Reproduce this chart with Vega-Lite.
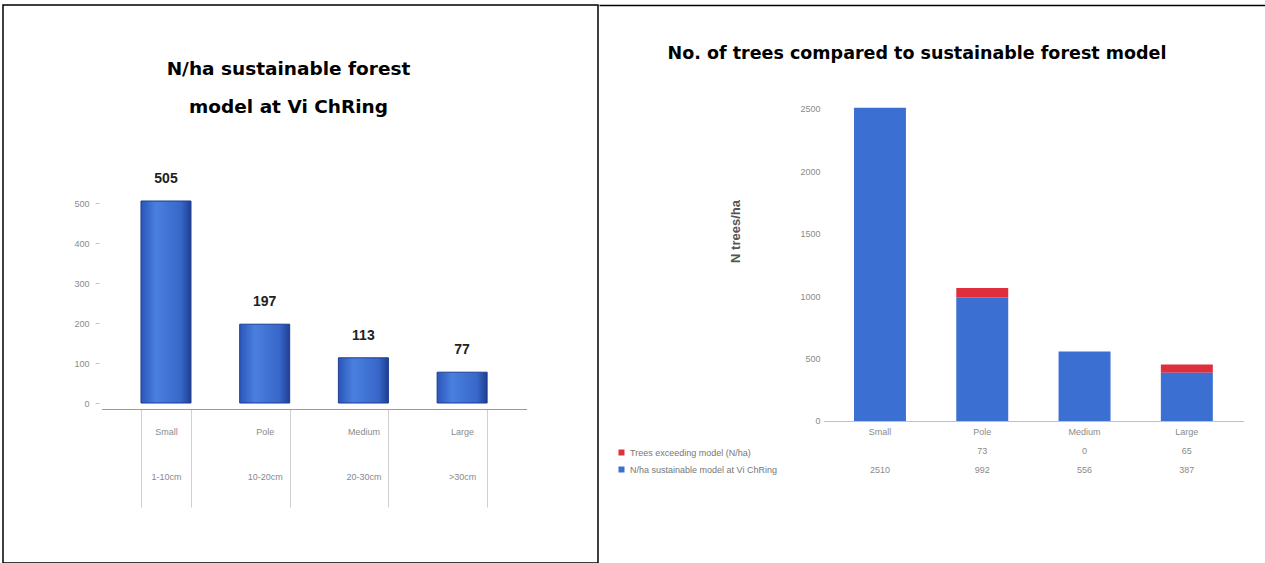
{
  "$schema": "https://vega.github.io/schema/vega-lite/v6.json",
  "padding": {"left": 2, "top": 4, "right": 0, "bottom": 0},
  "background": "white",
  "spacing": 0,
  "config": {"font": "Liberation Sans", "view": {"stroke": null}},
  "resolve": {"scale": {"x": "independent", "y": "independent", "color": "independent"}},
  "hconcat": [
    {
      "width": 595,
      "height": 558,
      "view": {"stroke": "black", "strokeWidth": 1.5},
      "title": {
        "text": ["N/ha sustainable forest", "model at Vi ChRing"],
        "frame": "group", "anchor": "middle", "orient": "top",
        "offset": -111, "baseline": "top", "dx": -12,
        "font": "DejaVu Sans", "fontSize": 18.5, "fontWeight": "bold", "lineHeight": 38, "color": "black"
      },
      "data": {"values": [
        {"cls": "Small|1-10cm", "n": 505},
        {"cls": "Pole|10-20cm", "n": 197},
        {"cls": "Medium|20-30cm", "n": 113},
        {"cls": "Large|>30cm", "n": 77}
      ]},
      "encoding": {
        "x": {
          "field": "cls", "type": "nominal", "sort": null,
          "scale": {"range": [98.5, 523.6], "paddingInner": 0.4934, "paddingOuter": 0.4},
          "axis": {
            "orient": "bottom", "offset": -154, "title": null, "labelAngle": 0,
            "labelExpr": "split(datum.label, '|')",
            "labelFontSize": 9, "labelColor": "#8a8a8a", "labelLineHeight": 45,
            "labelPadding": -80, "domainColor": "#9a9a9a",
            "ticks": true, "tickBand": "extent", "tickSize": 98, "tickColor": "#d0d0d0"
          }
        },
        "y": {
          "field": "n", "type": "quantitative",
          "scale": {"domain": [-400, 995], "nice": false, "zero": false},
          "axis": {
            "orient": "left", "offset": -96, "title": null,
            "values": [0, 100, 200, 300, 400, 500],
            "domain": false, "ticks": true, "tickSize": 4, "tickColor": "#c0c0c0",
            "labelFontSize": 9, "labelColor": "#8a8a8a", "labelPadding": 6, "grid": false
          }
        }
      },
      "layer": [
        {
          "mark": {
            "type": "bar", "stroke": "#1d3d8e", "strokeWidth": 1,
            "color": {
              "gradient": "linear", "x1": 0, "x2": 1, "y1": 0, "y2": 0,
              "stops": [
                {"offset": 0, "color": "#2b56b9"},
                {"offset": 0.3, "color": "#4a7fe0"},
                {"offset": 0.8, "color": "#3767c9"},
                {"offset": 1, "color": "#1f3f90"}
              ]
            }
          }
        },
        {
          "mark": {"type": "text", "dy": -22, "fontSize": 14, "fontWeight": "bold", "color": "#222", "font": "Liberation Sans"},
          "encoding": {"text": {"field": "n", "type": "quantitative"}}
        }
      ]
    },
    {
      "width": 668,
      "height": 558,
      "title": {
        "text": "No. of trees compared to sustainable forest model",
        "frame": "group", "anchor": "middle", "orient": "top",
        "offset": -57, "baseline": "top", "dx": -16,
        "font": "DejaVu Sans", "fontSize": 17.5, "fontWeight": "bold", "color": "black"
      },
      "data": {"values": [
        {"cls": "Small|\u200b|2510", "series": "Trees exceeding model (N/ha)", "ord": 2, "v": 0},
        {"cls": "Small|\u200b|2510", "series": "N/ha sustainable model at Vi ChRing", "ord": 1, "v": 2510},
        {"cls": "Pole|73|992", "series": "Trees exceeding model (N/ha)", "ord": 2, "v": 73},
        {"cls": "Pole|73|992", "series": "N/ha sustainable model at Vi ChRing", "ord": 1, "v": 992},
        {"cls": "Medium|0|556", "series": "Trees exceeding model (N/ha)", "ord": 2, "v": 0},
        {"cls": "Medium|0|556", "series": "N/ha sustainable model at Vi ChRing", "ord": 1, "v": 556},
        {"cls": "Large|65|387", "series": "Trees exceeding model (N/ha)", "ord": 2, "v": 65},
        {"cls": "Large|65|387", "series": "N/ha sustainable model at Vi ChRing", "ord": 1, "v": 387}
      ]},
      "layer": [
        {
          "mark": {"type": "bar"},
          "encoding": {
            "x": {
              "field": "cls", "type": "nominal", "sort": null,
              "scale": {"range": [224.3, 644.5], "paddingInner": 0.492, "paddingOuter": 0.3},
              "axis": {
                "orient": "bottom", "offset": -142, "title": null, "labelAngle": 0,
                "labelExpr": "split(datum.label, '|')",
                "labelFontSize": 9, "labelColor": "#8a8a8a", "labelLineHeight": 19,
                "labelPadding": 6, "domainColor": "#c0c0c0", "ticks": false
              }
            },
            "y": {
              "field": "v", "type": "quantitative", "stack": "zero",
              "scale": {"domain": [-1138, 3333], "nice": false, "zero": false},
              "axis": {
                "orient": "left", "offset": -238, "title": "N trees/ha",
                "titleX": -95, "titleY": 226, "titleFontSize": 13, "titleFontWeight": "bold", "titleColor": "#555",
                "values": [0, 500, 1000, 1500, 2000, 2500], "format": "d",
                "domain": false, "ticks": false, "labelPadding": 17,
                "labelFontSize": 9, "labelColor": "#8a8a8a", "grid": false
              }
            },
            "color": {
              "field": "series", "type": "nominal",
              "scale": {
                "domain": ["Trees exceeding model (N/ha)", "N/ha sustainable model at Vi ChRing"],
                "range": ["#df2f3d", "#3b6fd1"]
              },
              "legend": {
                "orient": "none", "legendX": 18, "legendY": 443, "title": null,
                "symbolType": "square", "symbolSize": 36, "labelFontSize": 9,
                "labelColor": "#777", "rowPadding": 7, "direction": "vertical"
              }
            },
            "order": {"field": "ord", "type": "quantitative"}
          }
        },
        {
          "mark": {"type": "rule", "opacity": 0},
          "encoding": {
            "x": {
              "field": "cls", "type": "nominal", "sort": null,
              "axis": {"orient": "top", "title": null, "labels": false, "ticks": false, "domainColor": "black", "domainWidth": 1.5}
            }
          }
        }
      ],
      "resolve": {"scale": {"x": "independent"}, "axis": {"x": "independent"}}
    }
  ]
}
